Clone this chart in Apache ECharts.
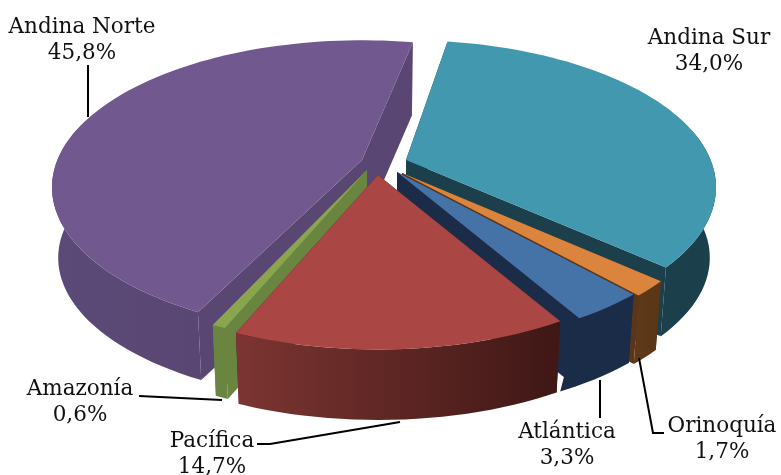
<!DOCTYPE html>
<html>
<head>
<meta charset="utf-8" />
<title>Regiones</title>
<script src="https://cdn.jsdelivr.net/npm/echarts@6/dist/echarts.min.js"></script>
<style>html,body{margin:0;padding:0;background:#fff}</style>
</head>
<body>
<div id="main" style="width:781px;height:475px;"></div>
<script type="text/javascript">
// slices in clockwise order
var categories = ['Andina Sur', 'Orinoquía', 'Atlántica', 'Pacífica', 'Amazonía', 'Andina Norte'];
var values = [34.0, 1.7, 3.3, 14.7, 0.6, 45.8];

// look of each slice
var topColors = ['#4198AF', '#DB843D', '#4572A7', '#AA4643', '#89A54E', '#71588F'];
var faceColors = ['#1B3F4B', '#5A3517', '#1A2C47', '#451A18', '#6A8540', '#5A4672'];
var wallLeft = ['#1B3F4B', '#5F3918', '#1A2C47', '#7C3532', '#6A8540', '#5A4A78'];
var wallRight = ['#1B3F4B', '#5A3517', '#1A2C47', '#3F1715', '#6A8540', '#5A4672'];
// where each exploded slice has its tip, and small corrections of the 3d view
var tipX = [406, 402, 397, 378, 367, 362];
var tipY = [160, 173, 172, 175, 170, 160];
var rotate = [-0.3, 0, 0, 0, 0, 1.8];
var depths = [71, 71, 71, 74, 74, 71];
var lowExtend = [0, 0, 3, 0, 0, 0];
var drawOrder = [5, 0, 1, 2, 4, 3];

// label places and leader lines
var labelX = [709, 722, 567, 212, 80, 82];
var labelY = [51, 439, 445, 454, 402, 40];
var leaders = [
	null,
	[[639, 358], [653, 433], [664, 433]],
	[[600, 380], [600, 418]],
	[[400, 422], [270, 444], [257, 444]],
	[[139, 396], [222, 400]],
	[[88, 65], [88, 117]]
];

var startAngle = 9.6;
var rx = 304.6, ry = 142, persp = 0.186;
var shrink = 0.98;

var total = 0;
values.forEach(function (v) { total += v; });
var angles = [startAngle];
values.forEach(function (v, i) { angles.push(angles[i] + v / total * 360); });

function project(i, deg, r, low) {
	var t = deg * Math.PI / 180;
	var u = Math.sin(t) * r, v = -Math.cos(t) * r;
	var w = 1 - persp * v;
	var x = rx * u / w, y = ry * v / w;
	if (low) return [tipX[i] + x * shrink, tipY[i] + y * shrink + depths[i]];
	return [tipX[i] + x, tipY[i] + y];
}

function arcAngles(a, b) {
	var list = [];
	for (var d = a; d < b; d += 2) list.push(d);
	list.push(b);
	return list;
}

function renderSlice(params, api) {
	var i = api.value(0);
	var a = angles[i] + rotate[i], b = angles[i + 1] + rotate[i];
	var children = [];
	// the two cut faces
	[a, b].forEach(function (d) {
		children.push({
			type: 'polygon',
			shape: { points: [project(i, d, 0, false), project(i, d, 1, false), project(i, d, 1, true), project(i, d, 0, true)] },
			style: { fill: faceColors[i] }
		});
	});
	// outer wall, only the part turned to the viewer
	var front = arcAngles(a, b).filter(function (d) { return -Math.cos(d * Math.PI / 180) > -0.25; });
	if (front.length > 1) {
		var pts = front.map(function (d) { return project(i, d, 1, false); });
		var lowAngles = lowExtend[i] ? front.concat([b + lowExtend[i]]) : front;
		var low = lowAngles.map(function (d) { return project(i, d, 1, true); }).reverse();
		children.push({
			type: 'polygon',
			shape: { points: pts.concat(low) },
			style: {
				fill: {
					type: 'linear', x: 0, y: 0, x2: 1, y2: 0,
					colorStops: [{ offset: 0, color: wallLeft[i] }, { offset: 1, color: wallRight[i] }]
				}
			}
		});
	}
	// top
	var topPts = [project(i, a, 0, false)].concat(arcAngles(a, b).map(function (d) { return project(i, d, 1, false); }));
	children.push({ type: 'polygon', shape: { points: topPts }, style: { fill: topColors[i] } });
	return { type: 'group', children: children };
}

function renderLabel(params, api) {
	var i = api.value(0);
	var children = [{
		type: 'text',
		style: {
			text: categories[i] + '\n' + values[i].toFixed(1).replace('.', ',') + '%',
			x: labelX[i], y: labelY[i],
			align: 'center', verticalAlign: 'middle',
			font: '21.5px "DejaVu Serif"', lineHeight: 26, fill: '#111'
		}
	}];
	if (leaders[i]) {
		children.push({
			type: 'polyline',
			shape: { points: leaders[i] },
			style: { stroke: '#000', lineWidth: 2, fill: null }
		});
	}
	return { type: 'group', children: children };
}

var chart = echarts.init(document.getElementById('main'), null, { renderer: 'canvas' });
chart.setOption({
	animation: false,
	backgroundColor: '#fff',
	series: [{
		type: 'custom',
		coordinateSystem: 'none',
		silent: true,
		renderItem: renderSlice,
		data: drawOrder.map(function (i) { return [i, values[i]]; })
	}, {
		type: 'custom',
		coordinateSystem: 'none',
		silent: true,
		z: 5,
		renderItem: renderLabel,
		data: categories.map(function (c, i) { return [i, values[i]]; })
	}]
});
</script>
</body>
</html>
